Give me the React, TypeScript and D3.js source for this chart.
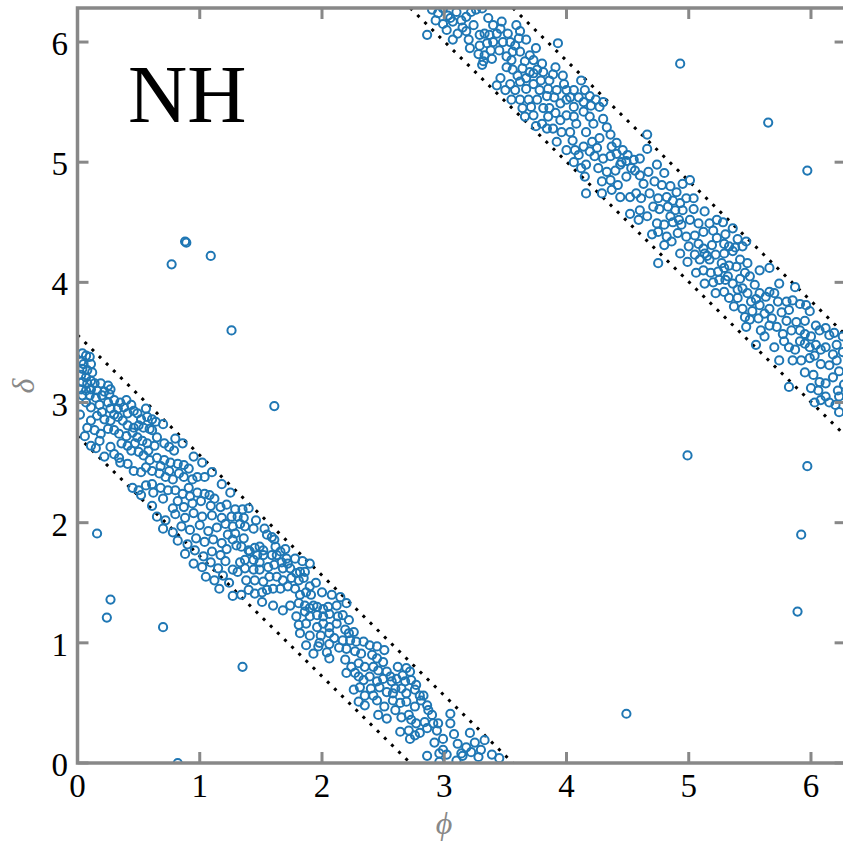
import React from "react";
import * as d3 from "d3";

// ---------- data (phi, delta) ----------
const tickValues = [0, 1, 2, 3, 4, 5, 6];
const bandCenters = [Math.PI, 3 * Math.PI];
const bandHalfWidth = 0.42;
const panelLabel = "NH";
const xLabel = "\u03D5";
const yLabel = "\u03B4";

const lowerBand: [number, number][] = [
  [.04,3.41],[.07,3.39],[.10,3.38],[.03,3.34],[.05,3.32],[.11,3.32],[.04,3.28],[.08,3.27],[.12,3.25],[.03,3.23],
  [.07,3.21],[.11,3.18],[.04,3.17],[.08,3.16],[.14,3.16],[.19,3.16],[.25,3.14],[.27,3.11],[.03,3.11],[.07,3.10],
  [.11,3.11],[.16,3.10],[.22,3.09],[.04,3.06],[.10,3.06],[.15,3.04],[.20,3.06],[.26,3.07],[.30,3.02],[.35,3.00],
  [.40,3.02],[.07,3.00],[.11,2.96],[.18,2.98],[.25,3.00],[.27,2.95],[.33,2.95],[.38,2.96],[.44,2.98],[.46,2.93],
  [.41,2.91],[.49,2.91],[.52,2.86],[.57,2.88],[.61,2.86],[.64,2.84],[.11,2.85],[.16,2.89],[.22,2.86],[.27,2.85],
  [.33,2.88],[.37,2.85],[.41,2.81],[.46,2.79],[.50,2.81],[.54,2.79],[.59,2.78],[.61,2.77],[.65,2.71],[.08,2.79],
  [.14,2.77],[.19,2.74],[.25,2.78],[.30,2.77],[.34,2.74],[.40,2.72],[.45,2.75],[.49,2.71],[.53,2.68],[.57,2.66],
  [.63,2.64],[.71,2.66],[.75,2.63],[.79,2.60],[.11,2.64],[.18,2.68],[.27,2.63],[.30,2.57],[.34,2.54],[.41,2.64],
  [.44,2.60],[.50,2.59],[.54,2.56],[.59,2.52],[.65,2.54],[.71,2.52],[.76,2.50],[.82,2.49],[.87,2.48],[.91,2.45],
  [.35,2.50],[.41,2.49],[.46,2.43],[.52,2.42],[.56,2.46],[.61,2.43],[.67,2.41],[.72,2.38],[.78,2.36],[.83,2.41],
  [.87,2.38],[.94,2.36],[.98,2.38],[1.04,2.38],[.45,2.29],[.50,2.27],[.56,2.31],[.61,2.32],[.68,2.29],[.74,2.27],
  [.80,2.27],[.86,2.24],[.91,2.29],[.98,2.25],[1.04,2.24],[1.08,2.23],[.52,2.23],[.61,2.14],[.82,2.18],[.87,2.13],
  [.94,2.16],[1.01,2.18],[1.09,2.14],[1.17,2.13],[1.29,2.11],[1.35,2.11],
  [.65,2.05],[.72,2.02],[.80,2.07],[.88,2.04],[.95,2.08],[1.02,2.05],[1.10,2.06],[1.18,2.04],
  [.70,1.95],[.78,1.92],[.85,1.97],[.92,1.94],[1.00,1.98],[1.07,1.93],[1.14,1.96],[1.21,1.99],
  [.82,1.85],[.90,1.82],[.97,1.87],[1.04,1.84],[1.11,1.86],[1.18,1.83],[1.23,1.90],
  [.88,1.74],[.96,1.77],[1.03,1.72],[1.10,1.76],[1.17,1.73],[1.22,1.78],
  [.95,1.66],[1.02,1.63],[1.09,1.67],[1.15,1.62],[1.21,1.68],
  [1.05,1.55],[1.12,1.52],[1.19,1.56],[1.24,1.50],[1.16,1.45],
  [1.26,2.05],[1.31,2.05],[1.36,2.04],[1.27,1.97],[1.33,1.99],[1.37,1.97],[1.44,1.95],[1.29,1.91],[1.36,1.87],[1.27,1.86],
  [1.30,1.81],[1.34,1.80],[1.40,1.77],[1.45,1.79],[1.49,1.80],[1.52,1.77],[1.59,1.88],[1.61,1.86],[1.66,1.76],[1.71,1.70],
  [1.41,1.76],[1.47,1.73],[1.52,1.73],[1.59,1.73],[1.63,1.73],[1.67,1.67],[1.72,1.66],[1.33,1.67],[1.37,1.69],[1.44,1.69],
  [1.49,1.67],[1.56,1.63],[1.61,1.65],[1.68,1.62],[1.74,1.62],[1.79,1.58],[1.82,1.59],[1.86,1.59],[1.90,1.66],[1.27,1.61],
  [1.31,1.59],[1.37,1.62],[1.44,1.61],[1.49,1.61],[1.38,1.52],[1.45,1.52],[1.52,1.51],[1.57,1.55],[1.63,1.55],[1.68,1.52],
  [1.75,1.54],[1.81,1.52],[1.85,1.54],[1.90,1.47],[1.27,1.39],[1.34,1.40],[1.40,1.44],[1.45,1.41],[1.51,1.42],[1.55,1.44],
  [1.60,1.45],[1.66,1.45],[1.72,1.47],[1.78,1.45],[1.82,1.40],[1.87,1.42],[1.91,1.40],[1.93,1.31],[1.51,1.34],[1.60,1.31],
  [1.68,1.27],[1.74,1.31],[1.81,1.33],[1.86,1.31],[1.90,1.29],[1.96,1.30],[2.01,1.28],[2.05,1.30],[2.12,1.31],[1.79,1.22],
  [1.86,1.26],[1.90,1.22],[1.96,1.23],[2.01,1.22],[2.06,1.24],[2.13,1.22],[1.81,1.15],[1.87,1.16],[1.96,1.13],[2.01,1.16],
  [2.06,1.13],[2.12,1.16],[1.82,1.08],[1.90,1.06],[1.99,1.06],[2.06,1.08],[1.87,0.98],[1.97,0.97],[2.06,0.99],[1.93,0.91],
  [2.04,0.92],[2.06,0.87],
  [2.20,1.33],[2.17,1.23],[2.22,1.19],[2.19,1.11],[2.22,1.08],[2.26,1.09],[2.17,1.02],[2.23,1.02],[2.28,1.01],[2.34,1.01],
  [2.39,0.98],[2.45,0.97],[2.51,0.94],[2.20,0.95],[2.27,0.93],[2.32,0.91],[2.41,0.90],[2.45,0.87],[2.50,0.84],[2.19,0.86],
  [2.24,0.80],[2.30,0.83],[2.35,0.80],[2.42,0.80],[2.46,0.77],[2.53,0.76],[2.56,0.72],[2.62,0.80],[2.69,0.79],[2.72,0.76],
  [2.66,0.73],[2.73,0.69],[2.77,0.65],[2.20,0.75],[2.27,0.75],[2.34,0.69],[2.39,0.72],[2.45,0.68],[2.50,0.70],[2.57,0.68],
  [2.61,0.70],[2.68,0.68],[2.26,0.61],[2.31,0.63],[2.35,0.56],[2.42,0.56],[2.47,0.63],[2.53,0.59],[2.60,0.62],[2.65,0.62],
  [2.69,0.58],[2.76,0.61],[2.80,0.56],[2.83,0.56],[2.30,0.51],[2.35,0.48],[2.45,0.52],[2.51,0.47],[2.58,0.52],[2.64,0.50],
  [2.69,0.51],[2.76,0.47],[2.81,0.52],[2.86,0.48],[2.87,0.44],[2.46,0.40],[2.53,0.37],[2.60,0.44],[2.65,0.38],[2.71,0.40],
  [2.73,0.36],[2.77,0.33],[2.84,0.34],[2.91,0.33],[2.95,0.33],[3.05,0.41],[3.05,0.33],[2.64,0.26],[2.71,0.27],[2.72,0.20],
  [2.76,0.23],[2.80,0.25],[2.86,0.29],[2.94,0.27],[3.21,0.25],[2.92,0.17],[2.96,0.08],[2.99,0.11],[3.02,0.07],[3.11,0.16],
  [3.14,0.08],[3.18,0.13],[3.15,0.06],[3.22,0.09],[3.30,0.11],[3.28,0.05],[3.39,0.07],[2.86,0.06],[2.96,0.01],[3.10,0.02],
  [.02,2.90],[.06,2.72],[.15,2.62],[.22,2.55],[.20,2.92],[.30,2.90],[.36,2.66],[.47,2.66],[.58,2.60],[.68,2.47],
  [.75,2.43],[.62,2.25],[.70,2.20],[.78,2.12],[.92,2.22],[1.12,2.20],[1.22,2.15],[.56,2.95],[.70,2.82],[.80,2.70],
  [.86,2.66],[.95,2.55],[1.02,2.50],[1.10,2.42],[1.18,2.32],[1.25,2.25],[1.40,2.12],[1.46,2.02],[1.53,1.95],[1.55,1.90],
  [1.62,1.80],[1.70,1.78],[1.78,1.70],[1.84,1.68],[1.95,1.50],[2.00,1.42],[2.08,1.40],[2.15,1.38],[1.98,1.00],[2.10,1.04],
  [2.14,0.96],[2.30,0.72],[2.40,0.62],[2.58,0.58],[2.90,0.40],[2.99,0.20],[3.08,0.24],[3.25,0.17],[3.45,0.04],[3.33,0.19],
];

const upperBand: [number, number][] = [
  [2.90,6.27],[2.95,6.24],[2.99,6.28],[3.03,6.22],[3.05,6.20],[2.99,6.15],[3.07,6.17],[3.14,6.18],[3.18,6.21],[3.22,6.25],
  [3.26,6.27],[3.31,6.28],[3.24,6.14],[3.18,6.09],[3.11,6.07],[3.07,6.02],[2.86,6.06],[3.29,6.06],[3.33,6.07],[3.37,6.06],
  [3.43,6.07],[3.47,6.17],[3.46,6.11],[3.52,6.07],[3.59,6.14],[3.29,5.97],[3.35,5.99],[3.40,6.00],[3.48,6.00],[3.54,6.00],
  [3.61,6.03],[3.67,6.02],[3.58,5.97],[3.28,5.90],[3.33,5.89],[3.39,5.86],[3.32,5.84],[3.31,5.81],[3.51,5.88],[3.56,5.92],
  [3.62,5.92],[3.70,5.89],[3.73,5.85],[3.66,5.84],[3.51,5.79],[3.56,5.77],[3.46,5.70],[3.43,5.64],[3.54,5.65],[3.58,5.60],
  [3.62,5.67],[3.67,5.70],[3.73,5.74],[3.76,5.77],[3.81,5.75],[3.80,5.82],[3.91,5.79],[3.93,5.99],[3.97,5.72],[3.67,5.61],
  [3.73,5.65],[3.78,5.60],[3.85,5.61],[3.92,5.60],[4.00,5.60],[4.03,5.54],[4.06,5.60],[3.62,5.52],[3.69,5.52],[3.76,5.52],
  [3.71,5.46],[3.81,5.45],[3.86,5.45],[3.90,5.54],[3.95,5.49],[4.00,5.52],[4.06,5.46],[4.10,5.54],[3.66,5.38],[3.73,5.39],
  [2.93,6.18],[3.10,6.25],[3.36,6.20],[3.40,6.14],[3.20,6.02],[3.45,5.93],[3.64,5.78],[3.70,5.75],[3.86,5.68],[3.89,5.73],
  [3.79,5.68],[3.84,5.55],[3.98,5.65],[3.55,5.85],[3.60,5.72],
  [4.12,5.68],[4.15,5.60],[4.14,5.50],[4.19,5.55],[4.20,5.47],[4.24,5.52],[4.27,5.46],[4.30,5.50],
  [5.28,4.50],[5.30,4.40],[5.33,4.30],[5.36,4.45],[5.40,4.36],[5.44,4.30],[5.47,4.34],[5.29,4.32],[5.38,4.29],
  [3.80,5.32],[3.85,5.38],[3.91,5.41],[3.95,5.35],[4.00,5.39],[4.06,5.38],[4.08,5.32],[4.03,5.25],[3.96,5.25],[3.89,5.28],
  [3.84,5.28],[4.14,5.42],[4.19,5.38],[4.22,5.32],[4.16,5.25],[4.30,5.36],[4.33,5.29],[4.36,5.23],[4.41,5.16],[4.37,5.13],
  [4.27,5.20],[4.21,5.17],[4.14,5.13],[4.07,5.10],[4.00,5.10],[4.06,5.00],[4.19,5.09],[4.23,5.05],[4.30,5.03],[4.36,5.05],
  [4.41,5.07],[4.46,5.10],[4.50,5.06],[4.55,5.02],[4.60,5.03],[4.66,5.11],[4.66,5.23],[4.49,5.01],[4.44,4.98],[4.40,4.93],
  [4.33,4.92],[4.26,4.95],[4.16,4.98],[4.15,4.88],[4.29,4.84],[4.36,4.85],[4.42,4.81],[4.49,4.88],[4.56,4.93],[4.60,4.89],
  [4.67,4.92],[4.74,4.98],[4.80,4.91],[4.72,4.84],[4.78,4.81],[4.85,4.80],[4.90,4.75],[5.01,4.85],[4.95,4.82],[4.16,4.74],
  [4.29,4.74],[4.37,4.77],[4.44,4.71],[4.52,4.71],[4.57,4.74],[4.61,4.70],[4.68,4.74],[4.75,4.70],[4.82,4.71],[4.87,4.68],
  [4.93,4.66],[4.98,4.70],[5.04,4.70],[4.52,4.57],[4.59,4.52],[4.60,4.60],[4.71,4.63],[4.76,4.61],[4.83,4.63],[4.89,4.60],
  [4.95,4.60],[5.04,4.61],[5.13,4.59],[4.74,4.49],[4.80,4.48],[4.87,4.50],[4.94,4.48],[5.01,4.52],[5.08,4.49],[5.17,4.49],
  [5.23,4.52],[4.75,4.42],[4.82,4.38],[4.80,4.31],[4.86,4.34],[4.91,4.41],[4.98,4.38],[5.05,4.39],[5.12,4.42],[5.20,4.43],
  [5.23,4.37],[4.75,4.16],[5.12,4.28],[5.19,4.31],
  [4.93,4.24],[4.99,4.17],[5.05,4.23],[5.09,4.19],[5.13,4.24],[5.17,4.19],[5.22,4.23],[5.29,4.24],[5.36,4.26],[5.42,4.19],
  [5.48,4.16],[5.06,4.08],[5.12,4.10],[5.18,4.08],[5.24,4.09],[5.29,4.12],[5.33,4.14],[5.39,4.13],[5.46,4.08],[5.50,4.05],
  [5.13,3.99],[5.20,4.00],[5.25,4.02],[5.32,4.05],[5.36,3.99],[5.42,4.03],[5.44,3.95],[5.22,3.91],[5.29,3.92],[5.33,3.87],
  [5.37,3.80],[5.40,3.94],[5.48,3.91],[5.54,3.98],[5.58,4.10],[5.66,4.12],[5.58,3.91],[5.63,3.88],[5.66,3.92],[5.70,3.91],
  [5.74,3.99],[5.73,3.84],[5.51,3.84],[5.44,3.78],[5.46,3.71],[5.52,3.76],[5.58,3.81],[5.62,3.74],[5.66,3.78],[5.80,3.84],
  [5.85,3.85],[5.87,3.96],[5.91,3.82],[5.96,3.81],[5.99,3.76],[5.82,3.77],[5.76,3.75],[5.47,3.63],[5.50,3.69],[5.59,3.60],
  [5.62,3.55],[5.55,3.48],[5.66,3.64],[5.72,3.63],[5.77,3.57],[5.84,3.60],[5.88,3.67],[5.91,3.60],[5.95,3.57],[6.04,3.64],
  [6.07,3.60],[6.12,3.62],[6.15,3.56],[6.19,3.58],[5.70,3.46],[5.74,3.35],[5.78,3.51],[5.82,3.46],[5.87,3.44],[5.91,3.51],
  [5.95,3.49],[5.99,3.46],[6.04,3.48],[6.08,3.44],[6.12,3.46],[6.21,3.48],[5.85,3.35],[5.92,3.35],[5.99,3.37],[6.03,3.39],
  [6.08,3.32],[6.15,3.31],[6.21,3.35],[5.82,3.13],[6.02,3.23],[6.07,3.17],[6.12,3.16],[6.18,3.21],[6.23,3.26],[6.06,3.10],
  [6.12,3.05],[6.22,3.10],[6.23,3.05],[6.03,3.00],[6.08,3.02],[6.23,2.92],
  [3.02,6.10],[3.15,6.12],[3.21,5.95],[3.38,5.93],[3.50,5.60],[3.55,5.52],[3.64,5.45],[3.75,5.30],[3.92,5.17],[4.05,5.18],
  [4.10,5.06],[4.12,4.95],[4.25,5.12],[4.45,5.00],[4.53,4.95],[4.63,4.82],[4.66,4.55],[4.70,4.40],[4.85,4.55],[4.92,4.52],
  [5.00,4.30],[5.08,4.32],[5.15,4.22],[5.27,4.16],[5.30,4.02],[5.40,3.87],[5.55,3.86],[5.57,3.70],[5.68,3.70],[5.80,3.68],
  [5.95,3.68],[6.00,3.55],[6.18,3.40],[6.26,3.42],[5.95,3.25],[6.00,3.12],[6.15,3.00],[6.20,2.98],[6.27,3.15],[6.26,3.55],
  [3.62,6.09],[3.75,5.95],
];

const outliers: [number, number][] = [
  [0.16,1.91],[0.27,1.36],[0.24,1.21],[0.70,1.13],[1.35,0.80],[0.82,0.00],[0.77,4.15],[0.88,4.34],[0.89,4.33],
  [1.09,4.22],[1.26,3.60],[1.61,2.97],[4.49,0.41],[4.99,2.56],[5.97,2.47],[5.92,1.90],[5.89,1.26],[4.93,5.82],
  [5.65,5.33],[5.97,4.93],
];

// ---------- layout ----------
const W = 843;
const H = 844;
const TAU = 2 * Math.PI;
const left = 77.5;
const right = 845.6;
const top = 8;
const bottom = 763;
const GRAY = "#888888";
const BLUE = "#1f77b4";
const FONT = "'Liberation Serif', 'DejaVu Serif', serif";

export default function App() {
  const x = d3.scaleLinear().domain([0, TAU]).range([left, right]);
  const y = d3.scaleLinear().domain([0, TAU]).range([bottom, top]);

  const guides: [number, number][][] = [];
  bandCenters.forEach((c) => {
    [-1, 1].forEach((s) => {
      const off = c + s * bandHalfWidth;
      const p0 = Math.max(0, off - TAU);
      const p1 = Math.min(TAU, off);
      guides.push([[p0, off - p0], [p1, off - p1]]);
    });
  });
  const line = d3.line<[number, number]>().x((d) => x(d[0])).y((d) => y(d[1]));
  const points = [...lowerBand, ...upperBand, ...outliers];
  const tickLen = 11;

  return (
    <div style={{ position: "absolute", left: 0, top: 0 }}>
      <svg width={W} height={H} style={{ display: "block", background: "#fff" }}>
        <defs>
          <clipPath id="plotClip">
            <rect x={left} y={top} width={right - left} height={bottom - top} />
          </clipPath>
        </defs>
        <g clipPath="url(#plotClip)">
          {guides.map((g, i) => (
            <path key={"g" + i} d={line(g) || ""} fill="none" stroke="#000" strokeWidth={3} strokeDasharray="3 7" />
          ))}
          {points.map((p, i) => (
            <circle key={i} cx={x(p[0])} cy={y(p[1])} r={4.1} fill="none" stroke={BLUE} strokeWidth={2} />
          ))}
        </g>
        {/* ticks */}
        {tickValues.map((v) => (
          <g key={"t" + v} stroke={GRAY} strokeWidth={3}>
            <line x1={x(v)} x2={x(v)} y1={bottom} y2={bottom - tickLen} />
            <line x1={x(v)} x2={x(v)} y1={top} y2={top + tickLen} />
            <line x1={left} x2={left + tickLen} y1={y(v)} y2={y(v)} />
            <line x1={right} x2={right - tickLen} y1={y(v)} y2={y(v)} />
          </g>
        ))}
        {/* spines */}
        <rect x={left} y={top} width={right - left} height={bottom - top} fill="none" stroke={GRAY} strokeWidth={3.5} />
        {/* tick labels */}
        {tickValues.map((v) => (
          <text key={"xl" + v} x={x(v)} y={797} textAnchor="middle" fontFamily={FONT} fontSize={33} fill="#000">
            {v}
          </text>
        ))}
        {tickValues.map((v) => (
          <text key={"yl" + v} x={68} y={y(v) + 13} textAnchor="end" fontFamily={FONT} fontSize={33} fill="#000">
            {v}
          </text>
        ))}
        <text x={128} y={122} fontFamily={FONT} fontSize={82} fill="#000">{panelLabel}</text>
        <text x={444} y={834} textAnchor="middle" fontFamily={FONT} fontStyle="italic" fontSize={32} fill={GRAY}>{xLabel}</text>
        <text transform={`translate(34,386) rotate(-90)`} textAnchor="middle" fontFamily={FONT} fontStyle="italic" fontSize={32} fill={GRAY}>{yLabel}</text>
      </svg>
    </div>
  );
}
